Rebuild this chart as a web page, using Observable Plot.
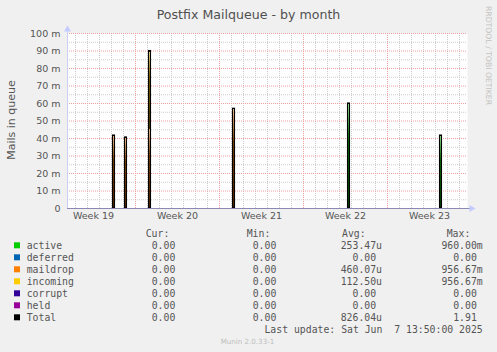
<!DOCTYPE html>
<html>
<head>
<meta charset="utf-8">
<script src="https://cdn.jsdelivr.net/npm/d3@7"></script>
<script src="https://cdn.jsdelivr.net/npm/@observablehq/plot@0.6"></script>
<style>
  html, body { margin: 0; padding: 0; background: #f0f0f0; }
  #wrap { position: relative; width: 497px; height: 352px; background: #f0f0f0; overflow: hidden; }
  #wrap > svg { position: absolute; left: 0; top: 0; }
</style>
</head>
<body>
<div id="wrap"></div>
<script>
// ---- data ----
const title = "Postfix Mailqueue - by month";
const yLabel = "Mails in queue";
const sideText = "RRDTOOL / TOBI OETIKER";
const footer = "Munin 2.0.33-1";
const lastUpdate = "Last update: Sat Jun  7 13:50:00 2025";

const xStart = "2025-05-06T08:00Z";
const xEnd = "2025-06-08T16:00Z";
const weekStarts = ["2025-05-05", "2025-05-12", "2025-05-19", "2025-05-26", "2025-06-02"];
const weekLabels = ["Week 19", "Week 20", "Week 21", "Week 22", "Week 23"];
const yTicks = [0, 0.01, 0.02, 0.03, 0.04, 0.05, 0.06, 0.07, 0.08, 0.09, 0.1];
const yTickLabels = ["0", "10 m", "20 m", "30 m", "40 m", "50 m", "60 m", "70 m", "80 m", "90 m", "100 m"];

const spikeTimes = ["2025-05-10T05:00Z", "2025-05-11T05:00Z", "2025-05-13T05:00Z", "2025-05-20T05:00Z", "2025-05-29T19:00Z", "2025-06-06T11:00Z"];
const activeVals   = [0, 0, 0, 0, 0.060, 0.0417];
const deferredVals = [0, 0, 0, 0, 0, 0];
const maildropVals = [0.0417, 0.0406, 0.045, 0.057, 0, 0];
const incomingVals = [0, 0, 0.045, 0, 0, 0];
const corruptVals  = [0, 0, 0, 0, 0, 0];
const heldVals     = [0, 0, 0, 0, 0, 0];

const seriesNames  = ["active", "deferred", "maildrop", "incoming", "corrupt", "held", "Total"];
const seriesColors = ["#00cc00", "#0066b3", "#ff8000", "#ffcc00", "#330099", "#990099", "#000000"];
const curVals = ["0.00", "0.00", "0.00", "0.00", "0.00", "0.00", "0.00"];
const minVals = ["0.00", "0.00", "0.00", "0.00", "0.00", "0.00", "0.00"];
const avgVals = ["253.47u", "0.00", "460.07u", "112.50u", "0.00", "0.00", "826.04u"];
const maxVals = ["960.00m", "0.00", "956.67m", "956.67m", "0.00", "0.00", "1.91"];
const headers = ["Cur:", "Min:", "Avg:", "Max:"];

// ---- derived tables ----
const H = 3600 * 1000;
const HALF = 2 * H;
const valueSets = [activeVals, deferredVals, maildropVals, incomingVals, corruptVals, heldVals];
const rows = [];
valueSets.forEach((vals, si) => {
  vals.forEach((v, i) => {
    const t = new Date(spikeTimes[i]);
    rows.push({series: seriesNames[si], t, x1: new Date(+t - HALF), x2: new Date(+t + HALF), v});
  });
});
const fillRows = rows.filter(d => d.v > 0);
const totals = spikeTimes.map((s, i) => {
  const t = new Date(s);
  return {t, x1: new Date(+t - HALF), x2: new Date(+t + HALF),
          v: valueSets.reduce((a, vals) => a + vals[i], 0)};
});

const x0 = new Date(xStart), x1d = new Date(xEnd);
const weekDates = weekStarts.map(d => new Date(d + "T00:00Z"));
const majorX = weekDates.filter(d => d >= x0 && d <= x1d);
const minorX = d3.utcDay.range(x0, x1d).filter(d => d.getUTCDay() !== 1);
const weekCenters = weekDates.map((d, i) => ({t: new Date(+d + 3.5 * 24 * H), label: weekLabels[i]}));
const minorY = d3.range(0.005, 0.1, 0.01);

const gradIds = seriesNames.map((s, i) => "grad-" + i);

const plot = Plot.plot({
  width: 497,
  height: 230,
  marginTop: 33,
  marginBottom: 22,
  marginLeft: 67,
  marginRight: 30,
  style: {background: "transparent", fontFamily: "DejaVu Sans", fontSize: "9.5px", color: "#555"},
  x: {type: "utc", domain: [x0, x1d], axis: null, label: null},
  y: {domain: [0, 0.1], axis: null, label: null},
  color: {type: "ordinal", domain: seriesNames, range: gradIds.map(id => `url(#${id})`)},
  marks: [
    Plot.frame({fill: "white", stroke: "none"}),
    Plot.ruleX(minorX, {stroke: "#cccccc", strokeDasharray: "1,1"}),
    Plot.ruleY(minorY, {stroke: "#cccccc", strokeDasharray: "1,1"}),
    Plot.ruleX(majorX, {stroke: "#eca0a0", strokeDasharray: "1,1"}),
    Plot.ruleY(yTicks.slice(1), {stroke: "#eca0a0", strokeDasharray: "1,1"}),
    Plot.rectY(fillRows, {x: "t", x1: "x1", x2: "x2", y: "v", fill: "series", order: seriesNames}),
    Plot.rectY(totals, {x: "t", x1: "x1", x2: "x2", y: "v", fill: "none", stroke: "black", strokeWidth: 1.1}),
    Plot.ruleX([x0], {stroke: "#ccccf4", insetTop: -3}),
    Plot.ruleY([0], {stroke: "#8c88b4", insetRight: -3}),
    Plot.dot([0], {frameAnchor: "top-left", symbol: "triangle", r: 2.6, fill: "#c4ccff", stroke: "none", dy: -4}),
    Plot.dot([0], {frameAnchor: "bottom-right", symbol: "triangle", r: 2.6, rotate: 90, fill: "#c4ccff", stroke: "none", dx: 4}),
    Plot.axisY({ticks: yTicks, tickFormat: d => yTickLabels[yTicks.indexOf(d)], tickSize: 0, tickPadding: 7, fontSize: 9.5, fill: "#555", label: null}),
    Plot.text(weekCenters, {x: "t", text: "label", frameAnchor: "bottom", dy: 10.5, fontSize: 9.5, fill: "#555"})
  ]
});

// gradient defs for the narrow filled spikes
const svgSel = d3.select(plot);
const defs = svgSel.insert("defs", ":first-child");
seriesNames.forEach((s, i) => {
  const base = d3.color(seriesColors[i]);
  const g = defs.append("linearGradient").attr("id", gradIds[i])
    .attr("x1", 0).attr("y1", 0).attr("x2", 0).attr("y2", 1);
  g.append("stop").attr("offset", "0%").attr("stop-color", d3.interpolateRgb(base, "white")(0.6));
  g.append("stop").attr("offset", "35%").attr("stop-color", d3.interpolateRgb(base, "black")(0.5));
  g.append("stop").attr("offset", "100%").attr("stop-color", d3.interpolateRgb(base, "black")(0.7));
});

const wrap = document.getElementById("wrap");
wrap.appendChild(plot);

// ---- overlay texts and legend ----
const ov = d3.select(wrap).append("svg")
  .attr("width", 497).attr("height", 352)
  .style("pointer-events", "none");

ov.append("text").attr("x", 248.5).attr("y", 18.5)
  .attr("text-anchor", "middle")
  .style("font-family", "DejaVu Sans").style("font-size", "12.6px").attr("fill", "#505050")
  .text(title);

ov.append("text").attr("transform", "translate(14.5,120) rotate(-90)")
  .attr("text-anchor", "middle")
  .style("font-family", "DejaVu Sans").style("font-size", "11px").attr("fill", "#555")
  .text(yLabel);

ov.append("text").attr("transform", "translate(486,6) rotate(90)")
  .attr("text-anchor", "start")
  .style("font-family", "DejaVu Sans").style("font-size", "7.7px").attr("fill", "#c4c4c4")
  .text(sideText);

ov.append("text").attr("x", 247.5).attr("y", 344)
  .attr("text-anchor", "middle")
  .style("font-family", "DejaVu Sans").style("font-size", "7.1px").attr("fill", "#bdbdbd")
  .text(footer);

const fs = 9.8, cw = fs * 0.602;
const mono = t => t.style("font-family", "DejaVu Sans Mono").style("font-size", fs + "px").attr("fill", "#555").style("white-space", "pre");
const baseY = 237.2, rowH = 12;
const headerX = [145.7, 246.7, 342, 446.7];
headers.forEach((h, i) => mono(ov.append("text").attr("x", headerX[i]).attr("y", baseY)).text(h));

const colEnds = [181.2, 282.2, 382, 482.7];
const cols = [curVals, minVals, avgVals, maxVals];
seriesNames.forEach((s, r) => {
  const by = baseY + rowH * (r + 1);
  ov.append("rect").attr("x", 14).attr("y", by - 6.9).attr("width", 6).attr("height", 6).attr("fill", seriesColors[r]);
  mono(ov.append("text").attr("x", 26.7).attr("y", by)).text(s);
  cols.forEach((vals, c) => {
    const v = vals[r];
    const hasUnit = /[a-zA-Z]$/.test(v);
    mono(ov.append("text").attr("x", hasUnit ? colEnds[c] : colEnds[c] - cw).attr("y", by).attr("text-anchor", "end")).text(v);
  });
});
mono(ov.append("text").attr("x", 482.7).attr("y", baseY + rowH * 8).attr("text-anchor", "end")).text(lastUpdate);
</script>
</body>
</html>
